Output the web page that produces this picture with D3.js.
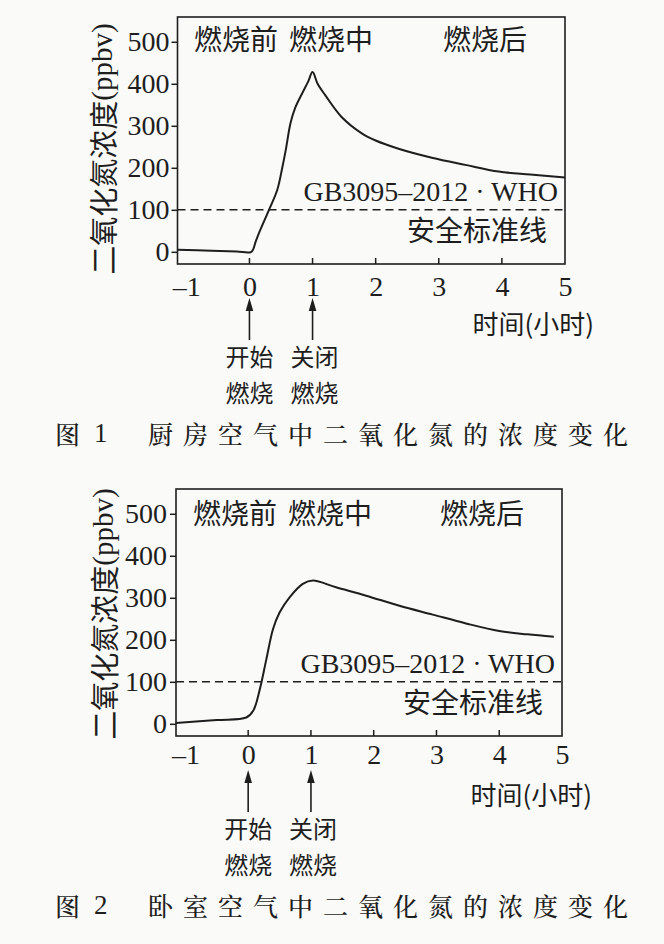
<!DOCTYPE html>
<html><head><meta charset="utf-8">
<script src="https://cdn.jsdelivr.net/npm/d3@7"></script>
<style>
html,body{margin:0;padding:0;background:#fafaf8;}
svg{display:block;}
</style></head>
<body>
<script>
// ---- data ----
const xTickValues = [-1, 0, 1, 2, 3, 4, 5];
const xTickLabels = ["\u20131", "0", "1", "2", "3", "4", "5"];
const yTickValues = [0, 100, 200, 300, 400, 500];
const phaseLabels = ["燃烧前", "燃烧中", "燃烧后"];
const eventLabels = [["开始", "燃烧"], ["关闭", "燃烧"]];
const eventTimes = [0, 1];
const safetyLimit = 100;

const kitchenTime = [-1.14, -0.6, -0.2, 0.03, 0.1, 0.16, 0.31, 0.44, 0.52, 0.575, 0.65, 0.72, 0.835, 0.93, 1.0, 1.08, 1.2, 1.46, 1.78, 2.0, 2.35, 2.89, 3.42, 3.95, 4.45, 5.0];
const kitchenNO2 = [5, 2.5, 1, 0, 25, 48, 100, 147, 200, 242, 306, 341, 377, 405, 428, 400, 373, 321, 282, 265, 246, 224, 207, 191, 184, 177];

const bedroomTime = [-1.15, -0.5, -0.03, 0.08, 0.185, 0.29, 0.395, 0.5, 0.66, 0.87, 1.03, 1.4, 1.88, 2.41, 2.94, 3.47, 4.0, 4.45, 4.87];
const bedroomNO2 = [2, 9, 15, 31, 82, 154, 225, 265, 301, 333, 341, 325, 305, 281, 260, 239, 221, 213, 207];

const captions = [
  {num: "1", text: "厨房空气中二氧化氮的浓度变化"},
  {num: "2", text: "卧室空气中二氧化氮的浓度变化"}
];

// ---- drawing ----
const W = 664, H = 944;
const ink = "#1e1e1e";
const cjk = "'Noto Sans CJK SC', sans-serif";
const cjkSerif = "'Noto Serif CJK SC', 'Noto Sans CJK SC', serif";
const latin = "'Liberation Serif', 'DejaVu Serif', serif";

const svg = d3.select("body").append("svg").attr("width", W).attr("height", H);

function drawChart(cfg) {
  const g = svg.append("g");
  const x = d3.scaleLinear().domain(cfg.xDomain).range([cfg.left, cfg.right]);
  const y = d3.scaleLinear().domain([-29, 559]).range([cfg.bottom, cfg.top]);

  // curve
  const pts = cfg.time.map((t, i) => [t, cfg.values[i]]);
  g.append("path")
    .datum(pts)
    .attr("fill", "none")
    .attr("stroke", ink)
    .attr("stroke-width", 2)
    .attr("stroke-linejoin", "miter")
    .attr("d", d3.line().x(d => x(d[0])).y(d => y(d[1])).curve(d3.curveCatmullRom.alpha(0.5)));

  // safety line
  g.append("line")
    .attr("x1", cfg.left).attr("x2", cfg.right)
    .attr("y1", y(safetyLimit)).attr("y2", y(safetyLimit))
    .attr("stroke", ink).attr("stroke-width", 1.6)
    .attr("stroke-dasharray", "8,5");

  // frame
  g.append("rect")
    .attr("x", cfg.left).attr("y", cfg.top)
    .attr("width", cfg.right - cfg.left).attr("height", cfg.bottom - cfg.top)
    .attr("fill", "none").attr("stroke", ink).attr("stroke-width", 1.6);

  // y axis (ticks outside)
  const yAxis = d3.axisLeft(y).tickValues(yTickValues).tickSize(6).tickPadding(cfg.yPad).tickFormat(d3.format("d"));
  const ya = g.append("g").attr("transform", `translate(${cfg.left},0)`).call(yAxis);
  ya.select(".domain").remove();
  ya.selectAll(".tick line").attr("stroke", ink).attr("stroke-width", 1.5);
  ya.selectAll(".tick text").attr("fill", ink).style("font-family", latin).style("font-size", "28px");

  // x axis (ticks inside)
  const xAxis = d3.axisBottom(x).tickValues(xTickValues).tickSize(0).tickPadding(10)
    .tickFormat((d, i) => xTickLabels[i]);
  const xa = g.append("g").attr("transform", `translate(0,${cfg.bottom})`).call(xAxis);
  xa.select(".domain").remove();
  xa.selectAll(".tick line").remove();
  xa.selectAll(".tick text").attr("fill", ink).attr("dy", null).attr("y", cfg.xLabelY - cfg.bottom)
    .attr("dominant-baseline", "central")
    .style("font-family", latin).style("font-size", "28px");
  g.selectAll(".xin").data(xTickValues.filter(v => v > cfg.xDomain[0] && v < cfg.xDomain[1] && v >= 0))
    .join("line").attr("class", "xin")
    .attr("x1", d => x(d)).attr("x2", d => x(d))
    .attr("y1", cfg.bottom).attr("y2", cfg.bottom - 6)
    .attr("stroke", ink).attr("stroke-width", 1.5);

  // x title
  g.append("text").attr("x", cfg.xTitleX).attr("y", cfg.xTitleY)
    .attr("text-anchor", "end").attr("dominant-baseline", "central")
    .attr("fill", ink)
    .style("font-family", cjk).style("font-size", "26px").style("font-weight", 400)
    .text("时间(小时)");

  // y title
  const yt = g.append("text")
    .attr("transform", `translate(${cfg.yTitleX},${cfg.yTitleY}) rotate(-90)`)
    .attr("text-anchor", "middle").attr("dominant-baseline", "central")
    .attr("fill", ink)
    .style("font-family", cjk).style("font-size", "29px").style("font-weight", 400);
  yt.append("tspan").text("二氧化氮浓度");
  yt.append("tspan").style("font-family", latin).text("(ppbv)");

  // phase labels
  g.selectAll(".phase").data(phaseLabels).join("text").attr("class", "phase")
    .attr("x", (d, i) => cfg.phaseX[i]).attr("y", cfg.phaseY)
    .attr("dominant-baseline", "central").attr("fill", ink)
    .style("font-family", cjk).style("font-size", "28px").style("font-weight", 400)
    .text(d => d);

  // standard labels
  g.append("text").attr("x", cfg.gbX).attr("y", y(safetyLimit) - 18)
    .attr("text-anchor", "end").attr("dominant-baseline", "central").attr("fill", ink)
    .style("font-family", latin).style("font-size", "28px")
    .text("GB3095\u20132012 \u00b7 WHO");
  g.append("text").attr("x", cfg.safeX).attr("y", y(safetyLimit) + 19)
    .attr("text-anchor", "end").attr("dominant-baseline", "central").attr("fill", ink)
    .style("font-family", cjk).style("font-size", "28px").style("font-weight", 400)
    .text("安全标准线");

  // event arrows
  eventTimes.forEach((t, i) => {
    const ax = x(t);
    const tip = cfg.bottom + 34, base = cfg.bottom + 76;
    g.append("line").attr("x1", ax).attr("x2", ax).attr("y1", tip + 8).attr("y2", base)
      .attr("stroke", ink).attr("stroke-width", 1.6);
    g.append("path")
      .attr("d", `M${ax},${tip} L${ax - 3.8},${tip + 13} L${ax + 3.8},${tip + 13} Z`)
      .attr("fill", ink);
    const lx = ax + (i === 1 ? 2 : 0);
    eventLabels[i].forEach((s, j) => {
      g.append("text").attr("x", lx).attr("y", cfg.bottom + 91 + j * 36)
        .attr("text-anchor", "middle").attr("dominant-baseline", "central").attr("fill", ink)
        .style("font-family", cjk).style("font-size", "24px").style("font-weight", 400)
        .text(s);
    });
  });

  // caption
  const cy = cfg.bottom + 169;
  g.append("text").attr("x", 55).attr("y", cy).attr("dominant-baseline", "central").attr("fill", ink)
    .style("font-family", cjkSerif).style("font-size", "25px").style("font-weight", 500).text("图");
  g.append("text").attr("x", 94).attr("y", cy).attr("dominant-baseline", "central").attr("fill", ink)
    .style("font-family", latin).style("font-size", "27px").text(cfg.caption.num);
  g.append("text").attr("x", 148).attr("y", cy).attr("dominant-baseline", "central").attr("fill", ink)
    .style("font-family", cjkSerif).style("font-size", "25px").style("font-weight", 500).style("letter-spacing", "10px")
    .text(cfg.caption.text);
}

drawChart({
  time: kitchenTime, values: kitchenNO2, caption: captions[0],
  xDomain: [-1.14, 5], left: 177.5, right: 565, top: 17, bottom: 264,
  yPad: 2, xLabelY: 286, xTitleX: 594, xTitleY: 322, yTitleX: 102, yTitleY: 149,
  phaseX: [194, 289, 443], phaseY: 38, gbX: 558, safeX: 547
});
drawChart({
  time: bedroomTime, values: bedroomNO2, caption: captions[1],
  xDomain: [-1.15, 5], left: 176, right: 562, top: 489, bottom: 736,
  yPad: 3, xLabelY: 754, xTitleX: 592, xTitleY: 793, yTitleX: 103, yTitleY: 614,
  phaseX: [193, 288, 440], phaseY: 512, gbX: 555, safeX: 543
});
</script>
</body></html>
